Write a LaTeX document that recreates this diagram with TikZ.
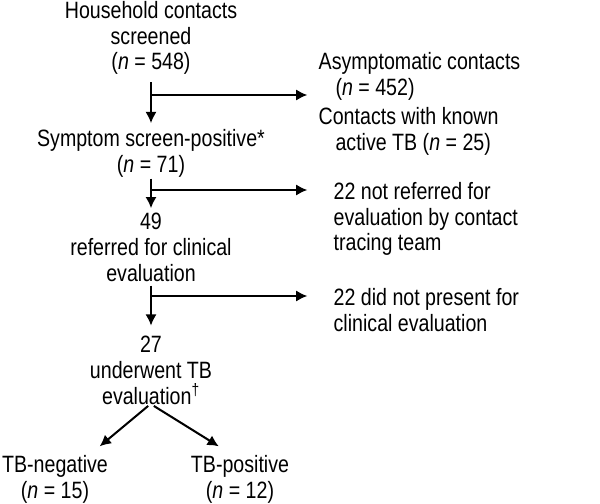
\documentclass[tikz,border=0pt]{standalone}
\usepackage{fontspec}
\setmainfont{Liberation Sans}[FakeStretch=0.83]
\usepackage{tikz}
\usetikzlibrary{arrows.meta,positioning}
\newcommand{\flowfont}{\fontsize{16.8}{18.4}\selectfont}
\tikzstyle{flow} = [line width=1.45pt,-{Latex[length=8pt,width=8pt]},shorten >=4pt]

\begin{document}
\begin{tikzpicture}[x=0.025cm, y=-0.025cm,
    stage/.style={align=center, inner sep=1pt, font=\flowfont},
    exclusion/.style={align=left, inner sep=1pt, anchor=west, font=\flowfont}]
\useasboundingbox (0,0) rectangle (600,504);

% Main column
\node[stage] (household) at (151,38) {Household contacts\\screened\\(\textit{n} = 548)};
\node[stage] (symptom) at (151,153) {Symptom screen-positive*\\(\textit{n} = 71)};
\node[stage] (referred) at (151,247) {49\\referred for clinical\\evaluation};
\node[stage] (underwent) at (151,370) {27\\underwent TB\\evaluation\textsuperscript{\textdagger}};

% Outcomes
\node[stage] (negative) at (55,479) {TB-negative\\(\textit{n} = 15)};
\node[stage] (positive) at (240,479) {TB-positive\\(\textit{n} = 12)};

% Exclusions
\node[exclusion] (asymptomatic) at (317,76) {Asymptomatic contacts\\\hspace*{12pt}(\textit{n} = 452)};
\node[exclusion] (known) at (317,131) {Contacts with known\\\hspace*{12pt}active TB (\textit{n} = 25)};
\node[exclusion] (notreferred) at (332,219) {22 not referred for\\evaluation by contact\\tracing team};
\node[exclusion] (notpresent) at (332,310) {22 did not present for\\clinical evaluation};

% Branch points
\coordinate (split1) at (151,95);
\coordinate (end1) at (313,95);
\coordinate (split2) at (151,190);
\coordinate (end2) at (313,190);
\coordinate (split3) at (151,296);
\coordinate (end3) at (313,296);

% Connections
\draw[flow, shorten <=4pt, shorten >=3pt] (household) -- (symptom);
\draw[flow, shorten <=0pt, shorten >=2pt] (symptom) -- (referred);
\draw[flow, shorten <=2pt, shorten >=6pt] (referred) -- (underwent);

\draw[flow] (split1) -- (end1);
\draw[flow] (split2) -- (end2);
\draw[flow] (split3) -- (end3);

\draw[flow, shorten >=0pt] ([xshift=-2pt]underwent.south) -- ([xshift=-7pt, yshift=5pt]negative.north east);
\draw[flow, shorten >=0pt] ([xshift=2pt]underwent.south) -- ([xshift=21pt, yshift=5pt]positive.north west);
\end{tikzpicture}
\end{document}
